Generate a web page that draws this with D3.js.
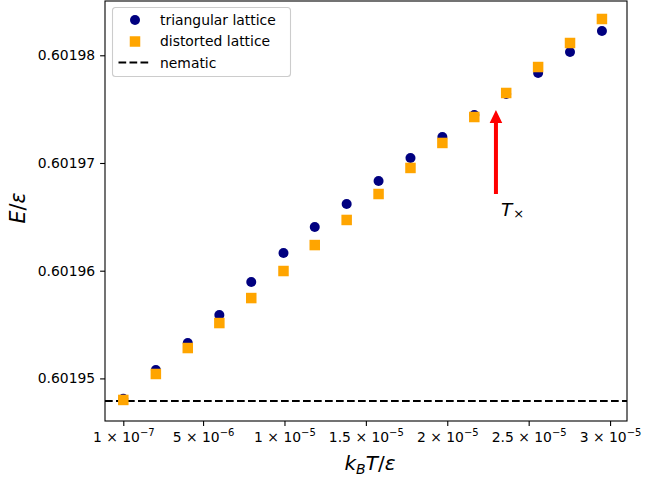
<!DOCTYPE html>
<html>
<head>
<meta charset="utf-8">
<script src="https://cdn.jsdelivr.net/npm/d3@7"></script>
<style>
  body { margin: 0; background: #fff; }
  text { font-family: "DejaVu Sans", sans-serif; }
</style>
</head>
<body>
<script>
// temperatures in units of 1e-6 (k_B T / eps)
var temps = [0.1, 2.1, 4.06, 6.0, 7.96, 9.94, 11.86, 13.82, 15.78, 17.74, 19.7, 21.66, 23.62, 25.58, 27.54, 29.5];
// energies, offsets from 0.6019 in units of 1e-5
var triangular = [4.81, 5.078, 5.329, 5.589, 5.895, 6.164, 6.406, 6.619, 6.833, 7.046, 7.241, 7.446, 7.641, 7.836, 8.031, 8.226];
var distorted = [4.80, 5.041, 5.282, 5.514, 5.746, 5.997, 6.238, 6.471, 6.712, 6.954, 7.186, 7.427, 7.650, 7.891, 8.114, 8.337];
var nematic = 0.6019479;
var xTicks = [1e-7, 5e-6, 1e-5, 1.5e-5, 2e-5, 2.5e-5, 3e-5];
var xTickMantissa = ["1", "5", "1", "1.5", "2", "2.5", "3"];
var xTickExp = ["\u22127", "\u22126", "\u22125", "\u22125", "\u22125", "\u22125", "\u22125"];
var yTicks = [0.60195, 0.60196, 0.60197, 0.60198];
var arrowFrom = [22.99e-6, 0.60196712];
var arrowTo = [22.99e-6, 0.60197493];

var toT = function(v) { return v * 1e-6; };
var toE = function(v) { return 0.6019 + v * 1e-5; };

var W = 657, H = 480;
var pLeft = 105, pRight = 627, pTop = 1, pBottom = 421;

var svg = d3.select("body").append("svg")
    .attr("width", W).attr("height", H)
    .attr("xmlns", "http://www.w3.org/2000/svg");

var x = d3.scaleLinear().domain([-1.024e-6, 3.104e-5]).range([pLeft, pRight]);
var y = d3.scaleLinear().domain([0.601946045, 0.60198504]).range([pBottom, pTop]);

// nematic reference line
svg.append("line")
    .attr("x1", pLeft).attr("x2", pRight)
    .attr("y1", y(nematic)).attr("y2", y(nematic))
    .attr("stroke", "#000").attr("stroke-width", 2.08)
    .attr("stroke-dasharray", "7.7,3.3");

// triangular lattice
svg.append("g").selectAll("circle").data(temps).enter()
    .append("circle")
    .attr("cx", function(d) { return x(toT(d)); })
    .attr("cy", function(d, i) { return y(toE(triangular[i])); })
    .attr("r", 5)
    .attr("fill", "#000080");

// distorted lattice
var sq = 10.5;
svg.append("g").selectAll("rect").data(temps).enter()
    .append("rect")
    .attr("x", function(d) { return x(toT(d)) - sq / 2; })
    .attr("y", function(d, i) { return y(toE(distorted[i])) - sq / 2; })
    .attr("width", sq).attr("height", sq)
    .attr("fill", "#ffa500");

// arrow marking T_x
var ax = x(arrowFrom[0]), ay0 = y(arrowFrom[1]), ay1 = y(arrowTo[1]);
var sw = 2, hw = 6.3, hl = 13;
svg.append("path")
    .attr("d", "M" + (ax - sw) + "," + ay0 + "L" + (ax - sw) + "," + (ay1 + hl) +
         "L" + (ax - hw) + "," + (ay1 + hl) + "L" + ax + "," + ay1 +
         "L" + (ax + hw) + "," + (ay1 + hl) + "L" + (ax + sw) + "," + (ay1 + hl) +
         "L" + (ax + sw) + "," + ay0 + "Z")
    .attr("fill", "#ff0000");

var tx = svg.append("text")
    .attr("x", x(23.3e-6)).attr("y", 215.5)
    .attr("font-size", 18.5);
tx.append("tspan").attr("font-style", "italic").text("T");
tx.append("tspan").attr("font-size", 13).attr("dy", 2.8).attr("dx", 1).text("\u00d7");

// axes
var xAxis = svg.append("g")
    .attr("transform", "translate(0," + pBottom + ")")
    .call(d3.axisBottom(x).tickValues(xTicks).tickSize(4.9).tickPadding(4.9).tickFormat(""));
xAxis.select(".domain").remove();
xAxis.selectAll(".tick line").attr("stroke-width", 1.1);
xAxis.selectAll(".tick text").each(function(d, i) {
  var t = d3.select(this).attr("font-size", 13.9).attr("font-family", "DejaVu Sans").attr("fill", "#000");
  t.append("tspan").text(xTickMantissa[i] + " \u00d7 10");
  t.append("tspan").attr("font-size", 10).attr("dy", -6).text(xTickExp[i]);
});
xAxis.selectAll(".tick text").attr("dy", "0.71em").attr("y", 11);

var yAxis = svg.append("g")
    .attr("transform", "translate(" + pLeft + ",0)")
    .call(d3.axisLeft(y).tickValues(yTicks).tickSize(4.9).tickPadding(4.9).tickFormat(d3.format(".5f")));
yAxis.select(".domain").remove();
yAxis.selectAll(".tick line").attr("stroke-width", 1.1);
yAxis.selectAll(".tick text").attr("font-size", 13.9).attr("font-family", "DejaVu Sans").attr("fill", "#000");

// frame
svg.append("rect")
    .attr("x", pLeft).attr("y", pTop)
    .attr("width", pRight - pLeft).attr("height", pBottom - pTop)
    .attr("fill", "none").attr("stroke", "#000").attr("stroke-width", 1.1);

// axis labels
var xl = svg.append("text")
    .attr("x", (pLeft + pRight) / 2 + 4).attr("y", 470)
    .attr("text-anchor", "middle").attr("font-size", 20);
xl.append("tspan").attr("font-style", "italic").text("k");
xl.append("tspan").attr("font-style", "italic").attr("font-size", 14).attr("dy", 4).text("B");
xl.append("tspan").attr("font-style", "italic").attr("dy", -4).text("T");
xl.append("tspan").text("/");
xl.append("tspan").attr("font-style", "italic").text("\u03b5");

var yl = svg.append("text")
    .attr("transform", "translate(25," + ((pTop + pBottom) / 2 - 3) + ") rotate(-90)")
    .attr("text-anchor", "middle").attr("font-size", 20.5);
yl.append("tspan").attr("font-style", "italic").text("E");
yl.append("tspan").text("/");
yl.append("tspan").attr("font-style", "italic").text("\u03b5");

// legend
var lg = svg.append("g").attr("transform", "translate(112.5,7.5)");
lg.append("rect")
    .attr("width", 178).attr("height", 69).attr("rx", 3)
    .attr("fill", "#fff").attr("fill-opacity", 0.8)
    .attr("stroke", "#cccccc").attr("stroke-width", 1.1);
var items = ["triangular lattice", "distorted lattice", "nematic"];
lg.append("circle").attr("cx", 22.5).attr("cy", 12.5).attr("r", 5).attr("fill", "#000080");
lg.append("rect").attr("x", 22.5 - sq / 2).attr("y", 34 - sq / 2).attr("width", sq).attr("height", sq).attr("fill", "#ffa500");
lg.append("line").attr("x1", 6).attr("x2", 37).attr("y1", 55).attr("y2", 55)
    .attr("stroke", "#000").attr("stroke-width", 2.08).attr("stroke-dasharray", "7.7,3.3");
lg.selectAll("text.item").data(items).enter()
    .append("text")
    .attr("class", "item")
    .attr("x", 47.5)
    .attr("y", function(d, i) { return 12.5 + i * 21.3; })
    .attr("dy", "0.36em")
    .attr("font-size", 13.9)
    .text(function(d) { return d; });
</script>
</body>
</html>
